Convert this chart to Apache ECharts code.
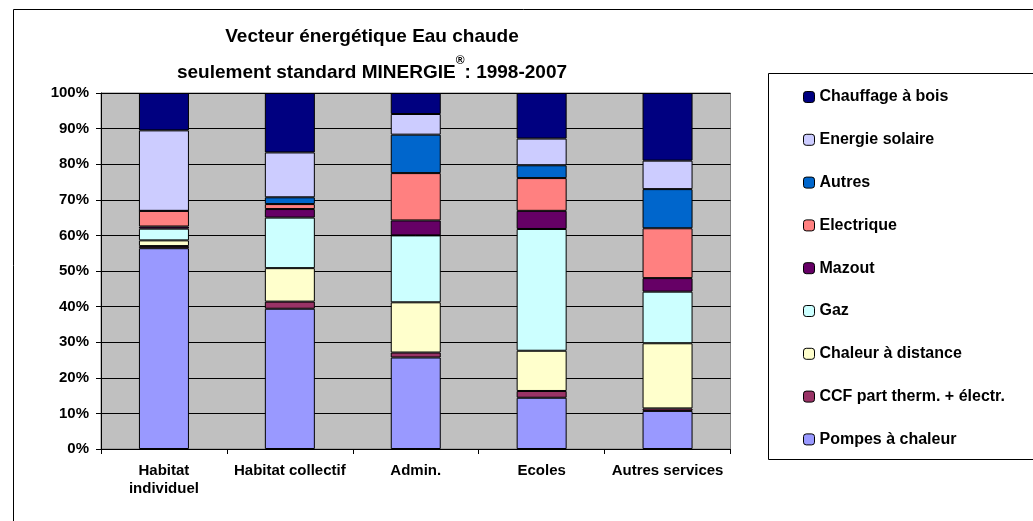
<!DOCTYPE html>
<html>
<head>
<meta charset="utf-8">
<script src="https://cdn.jsdelivr.net/npm/echarts@6/dist/echarts.min.js"></script>
<style>
html,body{margin:0;padding:0;background:#fff;}
#chart{width:1033px;height:521px;}
</style>
</head>
<body>
<div id="chart"></div>
<script>
const categories = ["Habitat\nindividuel", "Habitat collectif", "Admin.", "Ecoles", "Autres services"];
const yTicks = [0, 10, 20, 30, 40, 50, 60, 70, 80, 90, 100];

const pompes     = [56.4, 39.4, 25.7, 14.4, 10.7];
const ccf        = [0.6, 2.0, 1.4, 1.9, 0.7];
const chaleur    = [1.6, 9.4, 14.1, 11.3, 18.3];
const gaz        = [3.3, 14.2, 18.8, 34.2, 14.5];
const mazout     = [0.6, 2.4, 4.2, 5.1, 3.8];
const electrique = [4.4, 1.4, 13.3, 9.2, 14.0];
const autres     = [0, 1.9, 10.8, 3.6, 11.0];
const solaire    = [22.6, 12.6, 5.8, 7.5, 8.0];
const bois       = [10.5, 16.7, 5.9, 12.8, 19.0];

const seriesNames = ["Pompes à chaleur", "CCF part therm. + électr.", "Chaleur à distance", "Gaz", "Mazout", "Electrique", "Autres", "Energie solaire", "Chauffage à bois"];
const seriesData = [pompes, ccf, chaleur, gaz, mazout, electrique, autres, solaire, bois];
const seriesColors = ["#9999FF", "#993366", "#FFFFCC", "#CCFFFF", "#660066", "#FF8080", "#0066CC", "#CCCCFF", "#000080"];

const chart = echarts.init(document.getElementById('chart'), null, {renderer: 'canvas'});
const font = 'Liberation Sans, Arial, sans-serif';

const option = {
  animation: false,
  backgroundColor: '#ffffff',
  textStyle: {fontFamily: font},
  title: {
    text: 'Vecteur énergétique Eau chaude\nseulement standard MINERGIE{sup|®}: 1998-2007',
    left: 367,
    top: 14,
    textAlign: 'center',
    textStyle: {
      fontFamily: font, fontSize: 19, fontWeight: 'bold', color: '#000', lineHeight: 36,
      rich: {sup: {fontFamily: font, fontSize: 12, fontWeight: 'bold', color: '#000', verticalAlign: 'top', lineHeight: 36, padding: [0,0,12,0]}}
    }
  },
  graphic: [
    {type: 'rect', z: 0, shape: {x: 13.5, y: 9.5, width: 1100, height: 600}, style: {fill: 'none', stroke: '#000', lineWidth: 1}},
    {type: 'rect', z: 1, shape: {x: 768.5, y: 73.5, width: 400, height: 386}, style: {fill: '#fff', stroke: '#000', lineWidth: 1}}
  ],
  legend: {
    orient: 'vertical',
    left: 803,
    top: 89,
    itemWidth: 11,
    itemHeight: 11,
    itemGap: 26.8,
    padding: 0,
    data: seriesNames.slice().reverse(),
    textStyle: {fontFamily: font, fontSize: 16, fontWeight: 'bold', color: '#000', lineHeight: 16},
    itemStyle: {borderColor: '#000', borderWidth: 1}
  },
  grid: {
    left: 101, top: 93, right: 302.5, bottom: 72,
    show: true, backgroundColor: '#C0C0C0', borderColor: '#808080', borderWidth: 1
  },
  xAxis: {
    type: 'category',
    data: categories,
    axisLine: {show: true, lineStyle: {color: '#000', width: 1}},
    axisTick: {show: true, length: 5, alignWithLabel: false, lineStyle: {color: '#000'}},
    axisLabel: {fontFamily: font, fontSize: 15, fontWeight: 'bold', color: '#000', margin: 13, lineHeight: 18, interval: 0},
    splitLine: {show: false}
  },
  yAxis: {
    type: 'value',
    min: 0, max: 100, interval: 10,
    axisLine: {show: true, lineStyle: {color: '#000', width: 1}},
    axisTick: {show: true, length: 5, lineStyle: {color: '#000'}},
    axisLabel: {fontFamily: font, fontSize: 15, fontWeight: 'bold', color: '#000', margin: 12,
      formatter: function (v) { return yTicks.indexOf(v) >= 0 ? v + '%' : ''; }},
    splitLine: {show: true, lineStyle: {color: '#000', width: 1}}
  },
  series: seriesNames.map(function (name, i) {
    return {
      name: name,
      type: 'bar',
      stack: 'total',
      barWidth: 50,
      data: seriesData[i],
      itemStyle: {color: seriesColors[i], borderColor: '#000', borderWidth: 1},
      emphasis: {disabled: true}
    };
  })
};
chart.setOption(option);
</script>
</body>
</html>
